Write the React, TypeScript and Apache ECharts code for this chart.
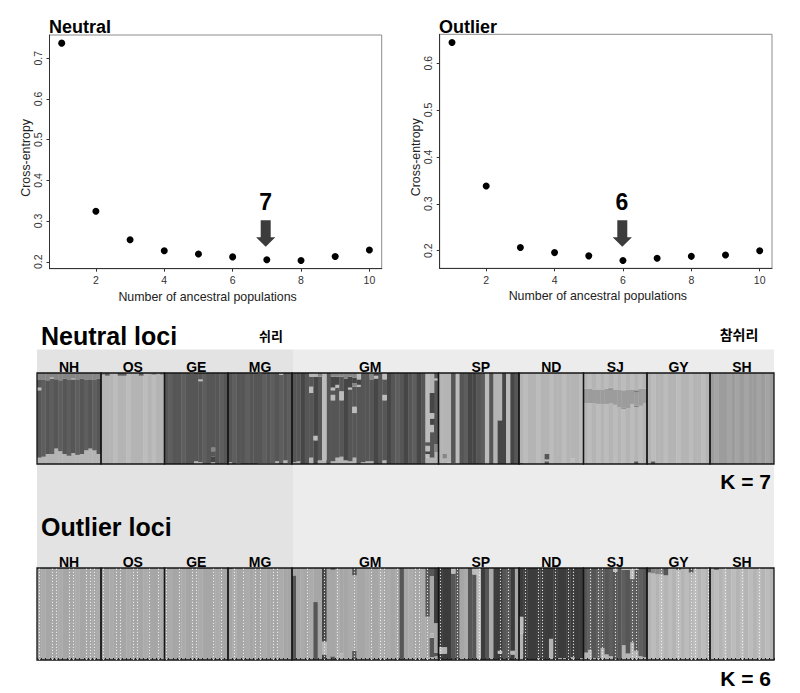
import React, { useEffect, useRef } from "react";
import * as echarts from "echarts";

// ---- cross-entropy data ----
const ancestralK = [1, 2, 3, 4, 5, 6, 7, 8, 9, 10];
const neutralEntropy = [0.737, 0.324, 0.254, 0.227, 0.219, 0.212, 0.205, 0.203, 0.213, 0.229];
const outlierEntropy = [0.644, 0.338, 0.207, 0.196, 0.189, 0.179, 0.184, 0.188, 0.191, 0.2];
const xTicks = [2, 4, 6, 8, 10];
const neutralYTicks = [0.2, 0.3, 0.4, 0.5, 0.6, 0.7];
const outlierYTicks = [0.2, 0.3, 0.4, 0.5, 0.6];

// ---- ancestry data: each individual lists [cluster, percent, ...] from the bottom up ----
const populations = ["NH", "OS", "GE", "MG", "GM", "SP", "ND", "SJ", "GY", "SH"];

const neutralNH = [[3,7,0,74,4,3,0,9,8,7],[3,8,1,85,8,7],[3,11,0,81,8,8],[3,11,1,83,4,1,8,5],[3,17,0,76,8,7],[3,14,1,78,8,8],[3,11,0,83,8,6],[3,9,1,84,8,7],[3,12,0,81,4,1,8,6],[3,10,1,83,8,7],[3,11,0,83,8,6],[3,15,1,78,8,7],[3,17,0,76,8,7],[3,15,1,78,8,7],[3,11,0,83,8,6]];
const neutralOS = [[3,98,8,2],[3,97,1,3],[3,100],[4,100],[3,97,1,3],[3,97,1,3],[4,100],[3,100],[3,100],[3,97,1,3],[4,100],[3,100],[4,98,8,2],[3,100],[3,98,8,2]];
const neutralGE = [[0,100],[1,100],[0,100],[0,100],[1,100],[0,100],[0,99,4,1],[3,3,0,97],[3,2,0,89,4,2,0,7],[1,100],[0,100],[3,2,2,6,0,6,8,4,0,82],[0,100],[1,100],[0,100]];
const neutralMG = [[3,2,0,98],[1,100],[3,1,0,99],[0,100],[1,100],[0,100],[0,100],[3,1,0,98,4,1],[3,1,1,99],[3,1,0,99],[3,1,1,99],[3,3,0,97],[1,98,4,2],[3,4,0,96],[3,1,1,99]];
const neutralGM = [[3,2,0,98],[3,3,0,97],[2,100],[0,100],[3,7,0,71,4,7,0,11,3,4],[2,26,4,5,2,65,3,4],[3,4,0,92,8,4],[3,4,4,96],[0,100],[3,3,0,67,4,6,0,5,4,3,2,12,8,4],[3,7,0,77,4,3,2,9,8,4],[3,8,0,62,4,10,0,16,8,4],[3,4,2,90,8,6],[3,3,0,79,4,2,2,12,8,4],[3,7,0,49,4,7,0,22,8,4,2,6,8,5],[0,85,4,2,2,6,4,7],[3,2,0,98],[3,3,0,97],[3,3,0,90,8,7],[2,94,4,3,2,3],[0,100],[3,4,0,66,4,6,0,17,4,7],[2,100],[0,100],[1,100],[0,100],[2,100],[0,100],[1,100],[2,100],[0,100],[3,7,4,4,2,3,4,6,0,4,4,76],[3,7,0,28,4,8,2,7,4,6,2,22,3,22],[3,13,8,9,0,70,4,2,0,6]];
const neutralSP = [[3,100],[3,6,8,5,3,89],[4,2,3,98],[3,1,0,99],[4,100],[0,100],[1,100],[2,100],[2,100],[0,100],[1,100],[4,100],[0,100],[3,100],[2,48,3,52],[2,100],[4,100],[2,100],[0,100]];
const neutralND = [[0,1,3,99],[4,100],[3,100],[3,100],[4,100],[3,100],[0,3,3,2,0,6,3,89],[4,100],[3,100],[3,100],[4,100],[3,100],[3,3,4,3,3,94],[3,100],[4,100]];
const neutralSJ = [[3,67,5,16,3,17],[4,67,5,16,4,17],[3,67,5,15,3,18],[4,66,5,16,4,18],[3,66,5,16,3,18],[4,66,5,17,4,17],[3,67,5,15,0,1,5,1,3,16],[4,65,5,17,4,18],[3,62,5,20,3,18],[4,61,0,1,5,19,4,19],[3,61,5,21,3,18],[4,66,5,16,4,18],[0,3,3,60,0,1,5,15,0,1,5,2,3,18],[4,64,5,19,4,17],[3,67,5,16,3,17]];
const neutralGY = [[3,100],[0,3,4,97],[3,100],[3,100],[4,100],[3,100],[3,100],[4,100],[3,100],[3,100],[4,100],[3,100],[3,100],[4,100],[3,100]];
const neutralSH = [[5,100],[6,100],[5,100],[5,100],[6,100],[5,100],[6,100],[5,100],[6,100],[5,100],[5,100],[6,100],[5,100],[6,100],[5,100]];

const outlierNH = [[9,100],[10,100],[9,100],[9,100],[9,100],[10,100],[9,100],[9,100],[9,100],[10,100],[9,100],[9,100],[9,100],[9,100],[10,100]];
const outlierOS = [[9,100],[9,100],[10,100],[9,100],[9,100],[9,100],[10,100],[9,100],[9,100],[9,100],[10,100],[9,100],[9,100],[9,100],[10,100]];
const outlierGE = [[9,100],[10,100],[9,100],[9,100],[10,100],[9,100],[9,100],[9,100],[10,100],[9,100],[9,100],[9,100],[10,100],[9,100],[9,100]];
const outlierMG = [[9,99,0,1],[10,100],[9,100],[9,100],[10,100],[9,100],[9,100],[9,100],[10,100],[9,100],[9,100],[9,100],[10,100],[9,100],[9,100]];
const outlierGM = [[0,92,9,8],[9,100],[10,100],[9,100],[10,100],[0,63,9,37],[9,100],[2,6,3,14,2,80],[9,100],[0,4,9,94,0,2],[10,100],[3,7,9,93],[9,100],[10,100],[0,10,9,82,0,8],[9,100],[9,100],[10,100],[9,100],[9,100],[10,100],[9,100],[10,100],[9,100],[9,100],[0,100],[9,100],[10,100],[9,100],[9,100],[10,100],[3,2,9,45,0,53],[3,3,0,21,3,5,9,62,0,9],[9,4,0,4,9,32,7,60]];
const outlierSP = [[7,7,4,7,7,86],[7,7,3,7,7,86],[7,100],[3,1,0,93,4,6],[0,100],[9,100],[10,100],[0,100],[0,93,4,7],[3,2,4,91,4,7],[7,100],[0,100],[10,100],[7,100],[7,7,4,3,7,90],[0,100],[0,100],[7,6,3,4,7,90],[9,100]];
const outlierND = [[3,29,4,18,7,53],[7,100],[7,100],[7,100],[3,2,7,98],[7,100],[7,100],[3,23,7,77],[7,100],[3,2,7,98],[3,2,7,98],[7,100],[3,3,7,97],[7,100],[3,2,7,98]];
const outlierSJ = [[3,8,0,92],[3,11,1,89],[3,2,0,98],[3,2,1,98],[3,13,0,87],[3,6,0,94],[3,4,1,96],[3,1,0,95,4,4],[3,1,0,99],[3,16,1,82,4,2],[3,7,0,91,4,2],[3,19,1,69,4,12],[3,10,0,88,4,2],[3,4,1,96],[3,3,0,97]];
const outlierGY = [[3,95,0,5],[4,94,8,6],[3,93,8,7],[4,93,8,7],[3,92,0,8],[4,100],[3,100],[4,98,0,2],[3,100],[4,100],[3,95,0,5],[4,100],[3,100],[4,100],[3,100]];
const outlierSH = [[3,100],[4,98,0,2],[3,100],[4,100],[3,100],[4,100],[3,100],[4,100],[3,100],[4,100],[3,100],[4,100],[3,100],[4,100],[3,100]];

// individuals that carry a pale dotted stripe in the outlier plot
const outlierStripes = [
  [0, 3, 4, 7, 8, 11, 12, 13],
  [0, 3, 4, 7, 8, 11, 13],
  [0, 3, 6, 7, 11, 13],
  [1, 3, 6, 7, 10, 11],
  [3, 7, 10, 14, 18, 20, 21, 24, 28, 29, 31],
  [0, 4, 9, 14, 16],
  [1, 4, 5, 8, 11, 12],
  [1, 3, 4, 7, 11, 12],
  [3, 7, 10, 11, 14],
  [3, 7, 11],
];

const neutralPanels = [neutralNH, neutralOS, neutralGE, neutralMG, neutralGM, neutralSP, neutralND, neutralSJ, neutralGY, neutralSH];
const outlierPanels = [outlierNH, outlierOS, outlierGE, outlierMG, outlierGM, outlierSP, outlierND, outlierSJ, outlierGY, outlierSH];

// ---- styles and layout ----
const clusterColors = ["#565656", "#5e5e5e", "#464646", "#b4b4b4", "#bcbcbc", "#9c9c9c", "#a4a4a4", "#3c3c3c", "#868686", "#a6a6a6", "#ababab"];
const panelEdges = [37, 101, 164.5, 228, 292, 438.5, 519, 583.5, 647, 710, 774];
const SANS = '"Liberation Sans", Arial, sans-serif';
const KOREAN = '"Noto Sans CJK KR", sans-serif';

function buildStructure(panels: number[][][], top: number, height: number, firstGrid: number, stripes?: number[][]) {
  const grid: any[] = [], xAxis: any[] = [], yAxis: any[] = [], series: any[] = [];
  panels.forEach((inds, p) => {
    const g = firstGrid + p;
    grid.push({
      show: true, left: panelEdges[p], top, width: panelEdges[p + 1] - panelEdges[p], height,
      borderColor: "#141414", borderWidth: 1.3, backgroundColor: "transparent", z: 3, containLabel: false,
    });
    const cats = inds.map((_, i) => String(i));
    xAxis.push({
      type: "category", gridIndex: g, data: cats, boundaryGap: true,
      axisLine: { show: false }, axisLabel: { show: false }, splitLine: { show: false },
      axisTick: stripes ? { show: true, inside: true, interval: 0, length: 2, lineStyle: { color: "#222", width: 1 } } : { show: false },
      z: 4,
    });
    yAxis.push({ type: "value", gridIndex: g, min: 0, max: 100, show: false, splitLine: { show: false } });
    const layers = Math.max(...inds.map((d) => d.length / 2));
    for (let l = 0; l < layers; l++) {
      const s: any = {
        type: "bar", xAxisIndex: g, yAxisIndex: g, stack: "q" + g, barWidth: "108%",
        silent: true, z: 2, clip: true,
        data: inds.map((d) => {
          const has = l * 2 < d.length;
          const color = has ? clusterColors[d[l * 2]] : "transparent";
          return { value: has ? d[l * 2 + 1] : 0, itemStyle: { color } };
        }),
      };
      if (l === 0 && stripes) {
        s.markLine = {
          silent: true, symbol: "none", label: { show: false }, animation: false, z: 5,
          lineStyle: { color: "#f4f4f4", type: [1.2, 1.8], width: 1.1, opacity: 0.85 },
          data: stripes[p].map((i) => ({ xAxis: i })),
        };
      }
      series.push(s);
    }
  });
  return { grid, xAxis, yAxis, series };
}

function scatterParts(left: number, top: number, width: number, height: number, xMin: number, xMax: number, yMin: number, yMax: number, yTicks: number[], values: number[], g: number) {
  return {
    grid: { show: true, left, top, width, height, borderColor: "#8c8c8c", borderWidth: 1, backgroundColor: "transparent" },
    xAxis: {
      type: "value", gridIndex: g, min: xMin, max: xMax, splitLine: { show: false },
      axisLine: { show: true, lineStyle: { color: "#333", width: 1 } },
      axisTick: { show: true, length: 3, customValues: xTicks, lineStyle: { color: "#333" } },
      axisLabel: { customValues: xTicks, color: "#333", fontSize: 10.5, fontFamily: SANS, margin: 6 },
      name: "Number of ancestral populations", nameLocation: "middle", nameGap: 22,
      nameTextStyle: { color: "#222", fontSize: 12.4, fontFamily: SANS, padding: [0, 16, 0, 0] },
    },
    yAxis: {
      type: "value", gridIndex: g, min: yMin, max: yMax, splitLine: { show: false },
      axisLine: { show: true, lineStyle: { color: "#333", width: 1 } },
      axisTick: { show: true, length: 3, customValues: yTicks, lineStyle: { color: "#333" } },
      axisLabel: { customValues: yTicks, rotate: 90, color: "#333", fontSize: 10.5, fontFamily: SANS, margin: 6, formatter: (v: number) => v.toFixed(1) },
      name: "Cross-entropy", nameLocation: "middle", nameGap: 18,
      nameTextStyle: { color: "#222", fontSize: 12.4, fontFamily: SANS, padding: [0, 12, 0, 0] },
    },
    series: {
      type: "scatter", xAxisIndex: g, yAxisIndex: g, symbol: "circle", symbolSize: 7, silent: true,
      itemStyle: { color: "#000", opacity: 1 },
      data: ancestralK.map((k, i) => [k, values[i]]),
    },
  };
}

const label = (text: string, x: number, y: number, font: string, textAlign = "left") => ({
  type: "text", z: 10, silent: true,
  style: { text, x, y, font, fill: "#000", textAlign, textVerticalAlign: "middle" },
});
const arrow = (cx: number) => ({
  type: "polygon", z: 10, silent: true,
  shape: { points: [[cx - 5, 220.3], [cx + 5, 220.3], [cx + 5, 237.3], [cx + 9.6, 237.3], [cx, 246.7], [cx - 9.6, 237.3], [cx - 5, 237.3]] },
  style: { fill: "#3c3c3c" },
});

export default function App() {
  const ref = useRef<HTMLDivElement>(null);
  useEffect(() => {
    document.body.style.margin = "0";
    const chart = echarts.init(ref.current!, undefined, { renderer: "svg" });
    const a = scatterParts(49.5, 35, 332.2, 233.7, 0.643, 10.36, 0.183, 0.757, neutralYTicks, neutralEntropy, 0);
    const b = scatterParts(439.7, 34.3, 332.3, 234, 0.64, 10.36, 0.1625, 0.6615, outlierYTicks, outlierEntropy, 1);
    const n = buildStructure(neutralPanels, 373, 91, 2);
    const o = buildStructure(outlierPanels, 568, 92, 12, outlierStripes);
    const popLabels = populations.flatMap((p, i) => {
      const cx = (panelEdges[i] + panelEdges[i + 1]) / 2 + (i === 4 ? 5 : i === 5 ? 2 : 0);
      return [label(p, cx, 367, "bold 14px " + SANS, "center"), label(p, cx, 562, "bold 14px " + SANS, "center")];
    });
    chart.setOption({
      animation: false,
      backgroundColor: "#fff",
      grid: [a.grid, b.grid, ...n.grid, ...o.grid],
      xAxis: [a.xAxis, b.xAxis, ...n.xAxis, ...o.xAxis],
      yAxis: [a.yAxis, b.yAxis, ...n.yAxis, ...o.yAxis],
      series: [a.series, b.series, ...n.series, ...o.series],
      graphic: [
        { type: "rect", z: -1, silent: true, shape: { x: 37, y: 349.5, width: 256, height: 218 }, style: { fill: "#e3e3e3" } },
        { type: "rect", z: -1, silent: true, shape: { x: 293, y: 349.5, width: 481, height: 218 }, style: { fill: "#ececec" } },
        label("Neutral", 49, 27, "bold 18px " + SANS),
        label("Outlier", 439, 27, "bold 18px " + SANS),
        label("7", 265.7, 202, "bold 23px " + SANS, "center"),
        label("6", 622, 202, "bold 23px " + SANS, "center"),
        arrow(265.7),
        arrow(622.3),
        label("Neutral loci", 41, 336, "bold 25px " + SANS),
        label("Outlier loci", 41, 527, "bold 25px " + SANS),
        label("쉬리", 271, 335, "bold 13px " + KOREAN, "center"),
        label("참쉬리", 739, 334, "bold 14px " + KOREAN, "center"),
        label("K = 7", 771, 481.5, "bold 21px " + SANS, "right"),
        label("K = 6", 771, 678, "bold 21px " + SANS, "right"),
        ...popLabels,
      ],
    });
    return () => chart.dispose();
  }, []);
  return <div ref={ref} style={{ position: "absolute", left: 0, top: 0, width: 800, height: 693 }} />;
}
